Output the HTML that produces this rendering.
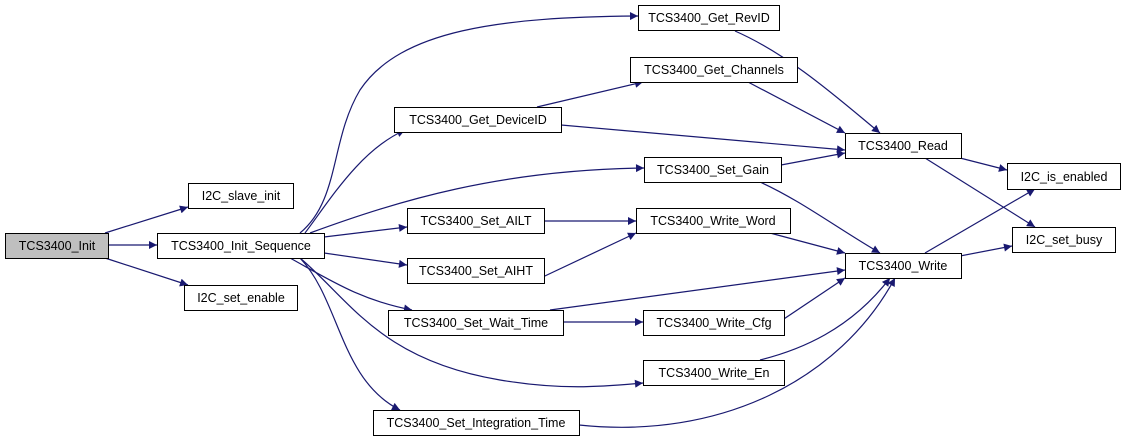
<!DOCTYPE html>
<html><head><meta charset="utf-8"><style>
body{margin:0;background:#fff}
svg text{font-family:"Liberation Sans",Arial,sans-serif;font-size:12.5px;fill:#000}
</style></head><body>
<svg width="1125" height="443" viewBox="0 0 1125 443" xmlns="http://www.w3.org/2000/svg">
<defs><marker id="a" viewBox="0 0 10 10" refX="10" refY="5" markerWidth="10" markerHeight="8" markerUnits="userSpaceOnUse" orient="auto"><path d="M0,0L10,5L0,10z" fill="#191970"/></marker></defs>
<g fill="none" stroke="#191970" stroke-width="1.2" marker-end="url(#a)">
<path d="M105,233 L188,207"/>
<path d="M108,245 L157,245"/>
<path d="M105,258 L188,285"/>
<path d="M300,233 C340,200 330,140 360,90 C400,30 500,17 638,16"/>
<path d="M305,233 C330,200 360,150 405,130"/>
<path d="M310,233 C400,200 500,170 644,168"/>
<path d="M324,237 L407,227"/>
<path d="M324,253 L407,265"/>
<path d="M290,258 C330,280 360,300 412,310"/>
<path d="M300,258 C350,300 380,360 500,380 C560,390 600,387 643,383"/>
<path d="M300,258 C340,300 340,380 400,410"/>
<path d="M537,107 L643,82"/>
<path d="M561,125 L845,150"/>
<path d="M748,82 L845,133"/>
<path d="M735,31 C790,55 840,100 880,133"/>
<path d="M781,165 L845,153"/>
<path d="M760,182 C800,200 840,230 880,253"/>
<path d="M544,221 L636,221"/>
<path d="M530,283 L636,233"/>
<path d="M770,233 L845,253"/>
<path d="M550,310 L845,270"/>
<path d="M563,322 L643,322"/>
<path d="M760,335 L845,278"/>
<path d="M760,360 C800,350 850,330 890,278"/>
<path d="M579,425 C720,440 840,380 895,278"/>
<path d="M960,158 L1007,170"/>
<path d="M925,158 L1035,227"/>
<path d="M925,253 L1035,189"/>
<path d="M960,256 L1012,246"/>
</g>
<g stroke="#000" stroke-width="1" fill="#fff">
<rect x="5.5" y="233.5" width="103" height="25" fill="#bfbfbf"/>
<rect x="188.5" y="183.5" width="105" height="25"/>
<rect x="157.5" y="233.5" width="167" height="25"/>
<rect x="184.5" y="285.5" width="113" height="25"/>
<rect x="638.5" y="5.5" width="141" height="25"/>
<rect x="630.5" y="57.5" width="167" height="25"/>
<rect x="394.5" y="107.5" width="167" height="25"/>
<rect x="644.5" y="157.5" width="137" height="25"/>
<rect x="845.5" y="133.5" width="116" height="25"/>
<rect x="1007.5" y="163.5" width="113" height="26"/>
<rect x="1012.5" y="227.5" width="103" height="25"/>
<rect x="845.5" y="253.5" width="116" height="25"/>
<rect x="407.5" y="208.5" width="137" height="25"/>
<rect x="636.5" y="208.5" width="154" height="25"/>
<rect x="407.5" y="258.5" width="137" height="25"/>
<rect x="388.5" y="310.5" width="175" height="25"/>
<rect x="643.5" y="310.5" width="141" height="25"/>
<rect x="643.5" y="360.5" width="141" height="25"/>
<rect x="373.5" y="410.5" width="206" height="25"/>
</g>
<g text-anchor="middle">
<text x="57" y="250">TCS3400_Init</text>
<text x="241" y="200">I2C_slave_init</text>
<text x="241" y="250">TCS3400_Init_Sequence</text>
<text x="241" y="302">I2C_set_enable</text>
<text x="709" y="22">TCS3400_Get_RevID</text>
<text x="714" y="74">TCS3400_Get_Channels</text>
<text x="478" y="124">TCS3400_Get_DeviceID</text>
<text x="713" y="174">TCS3400_Set_Gain</text>
<text x="903" y="150">TCS3400_Read</text>
<text x="1064" y="181">I2C_is_enabled</text>
<text x="1064" y="244">I2C_set_busy</text>
<text x="903" y="270">TCS3400_Write</text>
<text x="476" y="225">TCS3400_Set_AILT</text>
<text x="713" y="225">TCS3400_Write_Word</text>
<text x="476" y="275">TCS3400_Set_AIHT</text>
<text x="476" y="327">TCS3400_Set_Wait_Time</text>
<text x="714" y="327">TCS3400_Write_Cfg</text>
<text x="714" y="377">TCS3400_Write_En</text>
<text x="476" y="427">TCS3400_Set_Integration_Time</text>
</g>
</svg>
</body></html>
